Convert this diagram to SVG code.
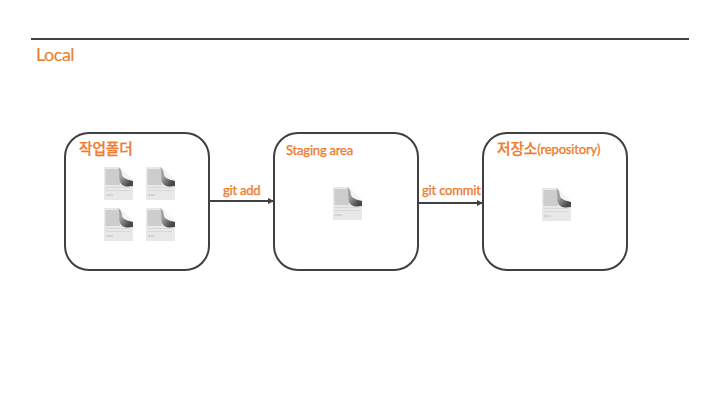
<svg xmlns="http://www.w3.org/2000/svg" width="720" height="405" viewBox="0 0 720 405">
<style>
.box{fill:#fff;stroke:#404040;stroke-width:2}
.t{font-family:"Lato","Noto Sans CJK KR",sans-serif;fill:#ed7d31;font-size:13px;letter-spacing:-.2px;font-weight:500;stroke:#ed7d31;stroke-width:.25}
.k{font-size:14.7px;letter-spacing:-.1px}
.c{stroke:#404040;stroke-width:2;fill:none;marker-end:url(#a)}
</style>
<defs>
<marker id="a" markerUnits="userSpaceOnUse" markerWidth="7" markerHeight="6" refX="6" refY="3" orient="auto"><path d="M0 0L6 3L0 6z" fill="#404040"/></marker>
<linearGradient id="f" x1="0" y1="0" x2="1" y2="1"><stop offset=".35" stop-color="#a0a0a0"/><stop offset=".8" stop-color="#4a4a4a"/></linearGradient>
<filter id="b" x="-10%" y="-10%" width="120%" height="120%"><feGaussianBlur stdDeviation=".5"/></filter>
<symbol id="doc" width="29" height="33" viewBox="0 0 29 33" overflow="visible">
<g filter="url(#b)">
<path d="M0 0H15L29 14V33H0z" fill="#e8e8e8"/>
<rect x="1.500" y="2" width="14.500" height="16" fill="#cdcdcd"/>
<path d="M2 20.500H26M2 23.500H26" stroke="#d8d8d8" stroke-width="1"/>
<path d="M2 28H9" stroke="#d4d4d4" stroke-width="2"/>
<path d="M16 0L29 13V15L19 10z" fill="#f4f4f4"/>
<path d="M14 0C19 3 17 8 19 10C21 12 25 13 29 14V19C23 20 17 20 15.500 13C15 9 16 3 14 0z" fill="url(#f)"/>
</g>
</symbol>
</defs>
<rect width="720" height="405" fill="#fff"/>
<path d="M31 39H689" stroke="#404040" stroke-width="2"/>
<text class="t" x="36" y="60.500" style="font-size:18px;font-weight:400;stroke-width:.1;letter-spacing:-.5px">Local</text>
<g id="working-folder">
<rect class="box" x="65" y="133" width="144" height="137" rx="24"/>
<text class="t k" x="79" y="154">작업폴더</text>
<use href="#doc" x="104" y="167"/><use href="#doc" x="146" y="167"/>
<use href="#doc" x="104" y="208"/><use href="#doc" x="146" y="208"/>
</g>
<g id="staging-area">
<rect class="box" x="274" y="133" width="144" height="137" rx="24"/>
<text class="t" x="286" y="155" style="letter-spacing:-.22px">Staging area</text>
<use href="#doc" x="333" y="187"/>
</g>
<g id="repository">
<rect class="box" x="483" y="133" width="144" height="137" rx="24"/>
<text class="t" x="497" y="154"><tspan class="k">저장소</tspan><tspan style="letter-spacing:-.2px">(repository)</tspan></text>
<use href="#doc" x="542" y="188"/>
</g>
<g id="connectors">
<path class="c" d="M209 201H274"/>
<path class="c" d="M418 203H483"/>
</g>
<text class="t" x="223" y="195" style="letter-spacing:-.25px">git add</text>
<text class="t" x="422" y="195" style="letter-spacing:-.2px">git commit</text>
</svg>
